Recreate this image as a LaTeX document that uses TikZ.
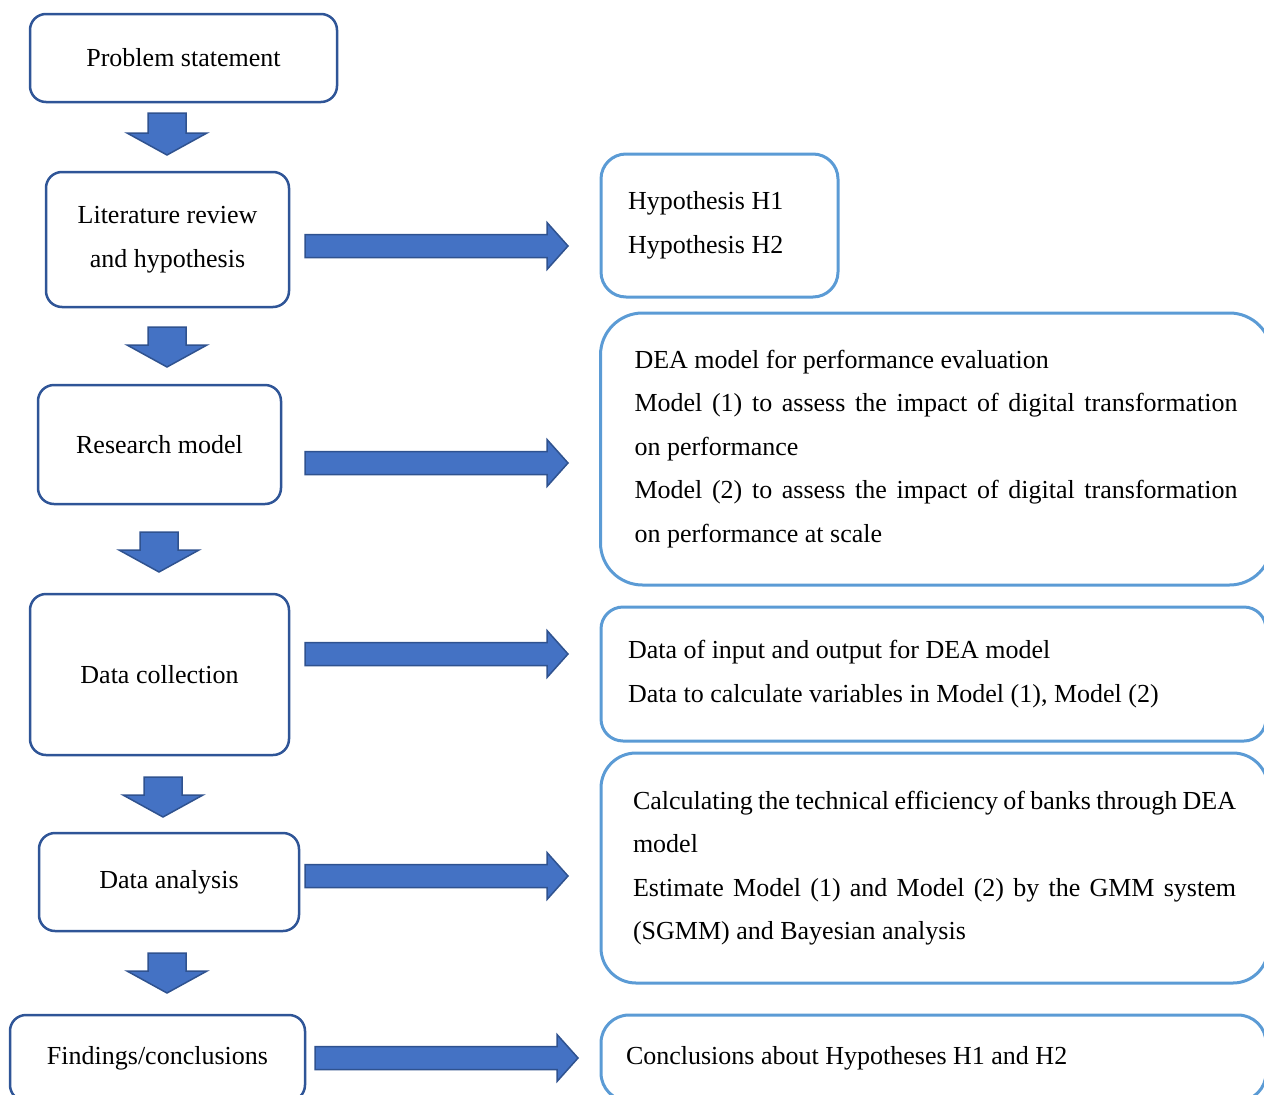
\documentclass[tikz,border=0pt]{standalone}
\usepackage{fontspec}
\setmainfont{Liberation Serif}
\usetikzlibrary{positioning, calc}

\definecolor{stepline}{RGB}{47,85,151}
\definecolor{noteline}{RGB}{91,155,213}
\definecolor{arrowfill}{RGB}{68,114,196}
\definecolor{arrowline}{RGB}{47,82,143}

\tikzset{
    boxfont/.style={font=\fontsize{26}{43.5}\selectfont},
    stepbox/.style={boxfont, draw=stepline, line width=2.5pt, rounded corners=16pt,
        align=center, inner sep=0pt},
    notebox/.style={boxfont, draw=noteline, line width=3pt, inner ysep=0pt},
    % block arrows between two named points
    rightblock/.style={draw=arrowline, fill=arrowfill, line width=1.5pt,
        to path={($(\tikztostart)+(0,-11.5)$) -- ($(\tikztotarget)+(-21,-11.5)$)
            -- ($(\tikztotarget)+(-21,-23.5)$) -- (\tikztotarget)
            -- ($(\tikztotarget)+(-21,23.5)$) -- ($(\tikztotarget)+(-21,11.5)$)
            -- ($(\tikztostart)+(0,11.5)$) -- cycle}},
    downblock/.style={draw=arrowline, fill=arrowfill, line width=1.5pt,
        to path={($(\tikztostart)+(-19,0)$) -- ($(\tikztotarget)+(-19,-22)$)
            -- ($(\tikztotarget)+(-40,-22)$) -- (\tikztotarget)
            -- ($(\tikztotarget)+(40,-22)$) -- ($(\tikztotarget)+(19,-22)$)
            -- ($(\tikztostart)+(19,0)$) -- cycle}},
}

\begin{document}
\begin{tikzpicture}[x=1pt, y=-1pt]

    \useasboundingbox (0,0) rectangle (1264,1095);
    \clip (0,0) rectangle (1264,1095);

    % Steps on the left
    \node[stepbox, minimum width=307pt, minimum height=88pt] (problem) at (183.5,58) {Problem statement};
    \node[stepbox, minimum width=243pt, minimum height=135pt] (review) at (167.5,239.5) {Literature review\\and hypothesis};
    \node[stepbox, minimum width=243pt, minimum height=119pt] (model) at (159.5,444.5) {Research model};
    \node[stepbox, minimum width=259pt, minimum height=161pt] (collect) at (159.5,674.5) {Data collection};
    \node[stepbox, minimum width=260pt, minimum height=98pt] (analysis) at (169,882) {Data analysis};
    \node[stepbox, minimum width=295pt, minimum height=86pt] (findings) at (157.5,1058) {Findings/conclusions};

    % Notes on the right
    \node[notebox, rounded corners=25pt, align=flush left, text width=183pt, inner xsep=27pt, minimum height=143pt]
        (hypo) at (719.5,225.5) {Hypothesis H1\\Hypothesis H2};
    \node[notebox, rounded corners=42pt, align=justify, text width=603pt, inner xsep=34pt, minimum height=272pt]
        (dea) at (936,449) {DEA model for performance evaluation\\
        Model (1) to assess the impact of digital transformation\linebreak on performance\\
        Model (2) to assess the impact of digital transformation\linebreak on performance at scale};
    \node[notebox, rounded corners=22pt, align=flush left, text width=611pt, inner xsep=27pt, minimum height=134pt]
        (datain) at (933.5,674) {Data of input and output for DEA model\\
        Data to calculate variables in Model (1), Model (2)};
    \node[notebox, rounded corners=35pt, align=justify, text width=603pt, inner xsep=32pt, minimum height=230pt]
        (calc) at (934.5,868) {Calculating the technical efficiency of banks through DEA\linebreak model\\
        Estimate Model (1) and Model (2) by the GMM system\linebreak (SGMM) and Bayesian analysis};
    \node[notebox, rounded corners=28pt, align=flush left, text width=615pt, inner xsep=25pt, minimum height=86pt]
        (concl) at (933.5,1058) {Conclusions about Hypotheses H1 and H2};

    % Ends of the down arrows
    \coordinate (d1s) at (167,113);  \coordinate (d1e) at (167,155);
    \coordinate (d2s) at (167,327);  \coordinate (d2e) at (167,367);
    \coordinate (d3s) at (159,532);  \coordinate (d3e) at (159,572);
    \coordinate (d4s) at (163,777);  \coordinate (d4e) at (163,817);
    \coordinate (d5s) at (167,953);  \coordinate (d5e) at (167,993);

    \draw[downblock] (d1s) to (d1e);
    \draw[downblock] (d2s) to (d2e);
    \draw[downblock] (d3s) to (d3e);
    \draw[downblock] (d4s) to (d4e);
    \draw[downblock] (d5s) to (d5e);

    % Ends of the right arrows
    \coordinate (r1s) at (305,246);  \coordinate (r1e) at (568,246);
    \coordinate (r2s) at (305,463);  \coordinate (r2e) at (568,463);
    \coordinate (r3s) at (305,654);  \coordinate (r3e) at (568,654);
    \coordinate (r4s) at (305,876);  \coordinate (r4e) at (568,876);
    \coordinate (r5s) at (315,1058); \coordinate (r5e) at (578,1058);

    \draw[rightblock] (r1s) to (r1e);
    \draw[rightblock] (r2s) to (r2e);
    \draw[rightblock] (r3s) to (r3e);
    \draw[rightblock] (r4s) to (r4e);
    \draw[rightblock] (r5s) to (r5e);

\end{tikzpicture}
\end{document}
